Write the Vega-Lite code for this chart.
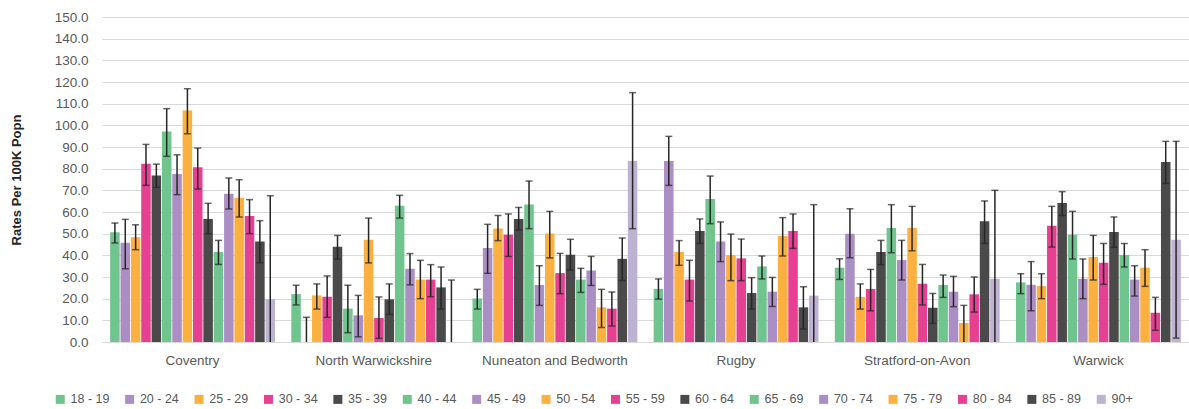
{
  "$schema": "https://vega.github.io/schema/vega-lite/v6.json",
  "width": 1087,
  "height": 325,
  "autosize": {"type": "none"},
  "padding": {"left": 102, "top": 17, "right": 0, "bottom": 67},
  "background": "white",
  "config": {
    "view": {"stroke": null},
    "font": "Liberation Sans",
    "axis": {"labelFont": "Liberation Sans", "labelColor": "#595959", "labelFontSize": 13.5},
    "axisY": {
      "titleFont": "Liberation Sans", "titleFontSize": 13, "titleFontWeight": "bold", "titleColor": "#262626",
      "titlePadding": 31, "ticks": false, "domain": false, "labelPadding": 14,
      "labelOverlap": false, "labelBound": false, "labelFlush": false,
      "gridColor": "#d9d9d9", "gridWidth": 1
    }
  },
  "data": {"values": [
    {"d":"Coventry","a":"18 - 19","v":50.6,"lo":45.7,"hi":54.9},
    {"d":"Coventry","a":"20 - 24","v":45.8,"lo":33.8,"hi":56.6},
    {"d":"Coventry","a":"25 - 29","v":48.3,"lo":42.6,"hi":54.1},
    {"d":"Coventry","a":"30 - 34","v":82.3,"lo":72.3,"hi":91.2},
    {"d":"Coventry","a":"35 - 39","v":76.8,"lo":71.4,"hi":82.1},
    {"d":"Coventry","a":"40 - 44","v":97.1,"lo":85.7,"hi":107.7},
    {"d":"Coventry","a":"45 - 49","v":77.5,"lo":68.0,"hi":86.4},
    {"d":"Coventry","a":"50 - 54","v":106.8,"lo":96.1,"hi":116.9},
    {"d":"Coventry","a":"55 - 59","v":80.6,"lo":70.6,"hi":89.5},
    {"d":"Coventry","a":"60 - 64","v":56.8,"lo":50.0,"hi":64.0},
    {"d":"Coventry","a":"65 - 69","v":41.5,"lo":35.8,"hi":46.9},
    {"d":"Coventry","a":"70 - 74","v":68.4,"lo":61.4,"hi":75.7},
    {"d":"Coventry","a":"75 - 79","v":66.6,"lo":57.7,"hi":74.9},
    {"d":"Coventry","a":"80 - 84","v":58.1,"lo":50.0,"hi":65.7},
    {"d":"Coventry","a":"85 - 89","v":46.4,"lo":36.6,"hi":56.0},
    {"d":"Coventry","a":"90+","v":19.8,"lo":0,"hi":67.5},
    {"d":"North Warwickshire","a":"18 - 19","v":22.1,"lo":17.1,"hi":26.2},
    {"d":"North Warwickshire","a":"20 - 24","v":0,"lo":0,"hi":11.4},
    {"d":"North Warwickshire","a":"25 - 29","v":21.5,"lo":15.2,"hi":26.8},
    {"d":"North Warwickshire","a":"30 - 34","v":20.9,"lo":11.4,"hi":30.5},
    {"d":"North Warwickshire","a":"35 - 39","v":44.0,"lo":38.3,"hi":49.2},
    {"d":"North Warwickshire","a":"40 - 44","v":15.4,"lo":4.3,"hi":26.2},
    {"d":"North Warwickshire","a":"45 - 49","v":12.3,"lo":2.4,"hi":21.5},
    {"d":"North Warwickshire","a":"50 - 54","v":47.2,"lo":36.5,"hi":57.2},
    {"d":"North Warwickshire","a":"55 - 59","v":11.1,"lo":1.7,"hi":20.8},
    {"d":"North Warwickshire","a":"60 - 64","v":19.7,"lo":12.7,"hi":26.8},
    {"d":"North Warwickshire","a":"65 - 69","v":62.9,"lo":57.2,"hi":67.7},
    {"d":"North Warwickshire","a":"70 - 74","v":33.8,"lo":26.4,"hi":40.8},
    {"d":"North Warwickshire","a":"75 - 79","v":28.8,"lo":20.0,"hi":37.7},
    {"d":"North Warwickshire","a":"80 - 84","v":28.8,"lo":20.9,"hi":35.7},
    {"d":"North Warwickshire","a":"85 - 89","v":25.2,"lo":15.2,"hi":34.6},
    {"d":"North Warwickshire","a":"90+","v":0,"lo":0,"hi":28.6},
    {"d":"Nuneaton and Bedworth","a":"18 - 19","v":20.1,"lo":15.2,"hi":24.3},
    {"d":"Nuneaton and Bedworth","a":"20 - 24","v":43.4,"lo":31.7,"hi":54.3},
    {"d":"Nuneaton and Bedworth","a":"25 - 29","v":52.4,"lo":46.8,"hi":58.4},
    {"d":"Nuneaton and Bedworth","a":"30 - 34","v":49.5,"lo":39.5,"hi":59.1},
    {"d":"Nuneaton and Bedworth","a":"35 - 39","v":56.8,"lo":51.7,"hi":62.1},
    {"d":"Nuneaton and Bedworth","a":"40 - 44","v":63.5,"lo":52.3,"hi":74.3},
    {"d":"Nuneaton and Bedworth","a":"45 - 49","v":26.3,"lo":16.9,"hi":35.2},
    {"d":"Nuneaton and Bedworth","a":"50 - 54","v":50.1,"lo":38.8,"hi":60.3},
    {"d":"Nuneaton and Bedworth","a":"55 - 59","v":31.8,"lo":22.3,"hi":40.9},
    {"d":"Nuneaton and Bedworth","a":"60 - 64","v":40.3,"lo":33.2,"hi":47.4},
    {"d":"Nuneaton and Bedworth","a":"65 - 69","v":28.8,"lo":22.9,"hi":34.0},
    {"d":"Nuneaton and Bedworth","a":"70 - 74","v":33.0,"lo":26.1,"hi":39.5},
    {"d":"Nuneaton and Bedworth","a":"75 - 79","v":16.0,"lo":6.7,"hi":24.3},
    {"d":"Nuneaton and Bedworth","a":"80 - 84","v":15.4,"lo":7.4,"hi":23.1},
    {"d":"Nuneaton and Bedworth","a":"85 - 89","v":38.4,"lo":28.4,"hi":48.0},
    {"d":"Nuneaton and Bedworth","a":"90+","v":83.5,"lo":52.3,"hi":115.1},
    {"d":"Rugby","a":"18 - 19","v":24.5,"lo":19.8,"hi":29.1},
    {"d":"Rugby","a":"20 - 24","v":83.5,"lo":72.3,"hi":94.9},
    {"d":"Rugby","a":"25 - 29","v":41.5,"lo":35.4,"hi":46.8},
    {"d":"Rugby","a":"30 - 34","v":28.8,"lo":18.9,"hi":37.7},
    {"d":"Rugby","a":"35 - 39","v":51.2,"lo":45.5,"hi":56.8},
    {"d":"Rugby","a":"40 - 44","v":66.0,"lo":54.6,"hi":76.6},
    {"d":"Rugby","a":"45 - 49","v":46.4,"lo":37.1,"hi":55.4},
    {"d":"Rugby","a":"50 - 54","v":40.0,"lo":28.3,"hi":49.8},
    {"d":"Rugby","a":"55 - 59","v":38.6,"lo":28.3,"hi":47.5},
    {"d":"Rugby","a":"60 - 64","v":22.6,"lo":15.2,"hi":29.7},
    {"d":"Rugby","a":"65 - 69","v":34.9,"lo":29.1,"hi":39.7},
    {"d":"Rugby","a":"70 - 74","v":23.2,"lo":16.4,"hi":29.8},
    {"d":"Rugby","a":"75 - 79","v":48.9,"lo":39.7,"hi":57.4},
    {"d":"Rugby","a":"80 - 84","v":51.2,"lo":43.2,"hi":59.1},
    {"d":"Rugby","a":"85 - 89","v":16.0,"lo":6.0,"hi":25.5},
    {"d":"Rugby","a":"90+","v":21.4,"lo":0,"hi":63.4},
    {"d":"Stratford-on-Avon","a":"18 - 19","v":34.3,"lo":28.9,"hi":38.4},
    {"d":"Stratford-on-Avon","a":"20 - 24","v":50.0,"lo":38.9,"hi":61.5},
    {"d":"Stratford-on-Avon","a":"25 - 29","v":20.8,"lo":15.2,"hi":26.8},
    {"d":"Stratford-on-Avon","a":"30 - 34","v":24.5,"lo":14.4,"hi":33.5},
    {"d":"Stratford-on-Avon","a":"35 - 39","v":41.5,"lo":35.7,"hi":46.9},
    {"d":"Stratford-on-Avon","a":"40 - 44","v":52.6,"lo":41.2,"hi":63.4},
    {"d":"Stratford-on-Avon","a":"45 - 49","v":37.8,"lo":28.6,"hi":46.9},
    {"d":"Stratford-on-Avon","a":"50 - 54","v":52.6,"lo":42.1,"hi":62.6},
    {"d":"Stratford-on-Avon","a":"55 - 59","v":26.9,"lo":17.1,"hi":35.8},
    {"d":"Stratford-on-Avon","a":"60 - 64","v":15.8,"lo":8.6,"hi":22.4},
    {"d":"Stratford-on-Avon","a":"65 - 69","v":26.3,"lo":20.6,"hi":30.9},
    {"d":"Stratford-on-Avon","a":"70 - 74","v":23.2,"lo":16.3,"hi":30.3},
    {"d":"Stratford-on-Avon","a":"75 - 79","v":8.8,"lo":0,"hi":16.9},
    {"d":"Stratford-on-Avon","a":"80 - 84","v":22.0,"lo":13.8,"hi":30.0},
    {"d":"Stratford-on-Avon","a":"85 - 89","v":55.7,"lo":45.5,"hi":65.1},
    {"d":"Stratford-on-Avon","a":"90+","v":29.2,"lo":0,"hi":70.0},
    {"d":"Warwick","a":"18 - 19","v":27.5,"lo":22.3,"hi":31.5},
    {"d":"Warwick","a":"20 - 24","v":26.4,"lo":14.4,"hi":37.1},
    {"d":"Warwick","a":"25 - 29","v":25.8,"lo":20.0,"hi":31.5},
    {"d":"Warwick","a":"30 - 34","v":53.7,"lo":43.8,"hi":62.6},
    {"d":"Warwick","a":"35 - 39","v":64.2,"lo":58.4,"hi":69.4},
    {"d":"Warwick","a":"40 - 44","v":49.5,"lo":38.3,"hi":60.3},
    {"d":"Warwick","a":"45 - 49","v":29.2,"lo":20.0,"hi":38.3},
    {"d":"Warwick","a":"50 - 54","v":39.2,"lo":28.6,"hi":49.2},
    {"d":"Warwick","a":"55 - 59","v":36.6,"lo":26.6,"hi":45.5},
    {"d":"Warwick","a":"60 - 64","v":50.8,"lo":43.7,"hi":57.7},
    {"d":"Warwick","a":"65 - 69","v":40.2,"lo":34.6,"hi":45.5},
    {"d":"Warwick","a":"70 - 74","v":28.8,"lo":21.2,"hi":35.2},
    {"d":"Warwick","a":"75 - 79","v":34.3,"lo":25.7,"hi":42.6},
    {"d":"Warwick","a":"80 - 84","v":13.5,"lo":5.4,"hi":20.6},
    {"d":"Warwick","a":"85 - 89","v":83.1,"lo":73.2,"hi":92.6},
    {"d":"Warwick","a":"90+","v":47.2,"lo":1.8,"hi":92.6}
  ]},
  "encoding": {
    "x": {
      "field": "d", "type": "nominal", "sort": null,
      "scale": {"paddingInner": 0.09, "paddingOuter": 0.045},
      "axis": {"title": null, "labelAngle": 0, "ticks": false, "labelPadding": 11, "domainColor": "#d9d9d9", "domainWidth": 1, "labelLimit": 300}
    },
    "xOffset": {
      "field": "a", "type": "nominal", "sort": null,
      "scale": {"paddingInner": 0.08, "paddingOuter": 0}
    }
  },
  "layer": [
    {
      "mark": {"type": "bar"},
      "encoding": {
        "y": {
          "field": "v", "type": "quantitative",
          "scale": {"domain": [0, 150], "nice": false},
          "axis": {"title": "Rates Per 100K Popn", "format": ".1f", "values": [0,10,20,30,40,50,60,70,80,90,100,110,120,130,140,150]}
        },
        "color": {
          "field": "a", "type": "nominal",
          "scale": {
            "domain": ["18 - 19","20 - 24","25 - 29","30 - 34","35 - 39","40 - 44","45 - 49","50 - 54","55 - 59","60 - 64","65 - 69","70 - 74","75 - 79","80 - 84","85 - 89","90+"],
            "range": ["#70C48E","#AB8FC4","#FBB040","#E54092","#4A4A4A","#70C48E","#AB8FC4","#FBB040","#E54092","#4A4A4A","#70C48E","#AB8FC4","#FBB040","#E54092","#4A4A4A","#BEB2D2"]
          },
          "legend": {
            "title": null, "orient": "none", "legendX": -48, "legendY": 376,
            "direction": "horizontal", "columns": 16, "gridAlign": "all",
            "symbolType": "square", "symbolSize": 81, "symbolStrokeWidth": 0, "symbolOpacity": 1,
            "labelFont": "Liberation Sans", "labelFontSize": 12.5, "labelColor": "#595959",
            "labelOffset": 4, "columnPadding": 13.4
          }
        }
      }
    },
    {
      "mark": {"type": "rule", "color": "#262626", "strokeWidth": 1.5},
      "encoding": {
        "y": {
          "field": "lo", "type": "quantitative",
          "scale": {"domain": [0, 150], "nice": false},
          "axis": {"title": "Rates Per 100K Popn", "format": ".1f", "values": [0,10,20,30,40,50,60,70,80,90,100,110,120,130,140,150]}
        },
        "y2": {"field": "hi"}
      }
    },
    {
      "mark": {"type": "tick", "color": "#262626", "thickness": 1.5, "size": 7, "orient": "horizontal"},
      "encoding": {
        "y": {
          "field": "hi", "type": "quantitative",
          "scale": {"domain": [0, 150], "nice": false},
          "axis": {"title": "Rates Per 100K Popn", "format": ".1f", "values": [0,10,20,30,40,50,60,70,80,90,100,110,120,130,140,150]}
        }
      }
    },
    {
      "transform": [{"filter": "datum.lo > 0"}],
      "mark": {"type": "tick", "color": "#262626", "thickness": 1.5, "size": 7, "orient": "horizontal"},
      "encoding": {
        "y": {
          "field": "lo", "type": "quantitative",
          "scale": {"domain": [0, 150], "nice": false},
          "axis": {"title": "Rates Per 100K Popn", "format": ".1f", "values": [0,10,20,30,40,50,60,70,80,90,100,110,120,130,140,150]}
        }
      }
    }
  ]
}
